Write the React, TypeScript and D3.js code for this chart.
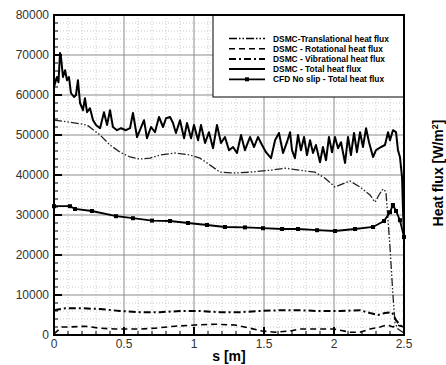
import React from 'react'
import * as d3 from 'd3'

// Total heat flux (DSMC)
const totS = [0,0.021,0.032,0.043,0.05,0.064,0.079,0.093,0.107,0.121,0.143,0.157,0.171,0.186,0.207,0.221,0.236,0.257,0.279,0.3,0.329,0.357,0.379,0.4,0.421,0.45,0.479,0.514,0.543,0.564,0.593,0.614,0.643,0.664,0.693,0.721,0.75,0.779,0.8,0.829,0.85,0.871,0.9,0.929,0.95,0.979,1.0,1.029,1.05,1.079,1.107,1.136,1.164,1.193,1.221,1.25,1.279,1.307,1.336,1.364,1.4,1.429,1.457,1.486,1.514,1.55,1.579,1.607,1.636,1.664,1.686,1.7,1.721,1.743,1.764,1.786,1.807,1.829,1.85,1.871,1.9,1.921,1.943,1.964,1.986,2.007,2.029,2.05,2.079,2.1,2.121,2.143,2.164,2.186,2.207,2.229,2.25,2.279,2.3,2.336,2.364,2.386,2.4,2.421,2.443,2.457,2.471,2.486,2.493,2.5]
const totV = [62000,64500,63200,70500,69500,64500,66200,63700,64500,60500,59500,60000,63700,58000,56200,59200,55700,56700,53700,52500,51700,55700,52500,56200,52000,51200,51700,51200,51700,55500,49500,51200,53700,49200,52000,50700,54500,52000,54200,54500,53000,50500,53700,49200,53000,49200,52500,48700,52500,48000,50700,46700,52500,48000,49500,46200,47000,45500,50000,46200,49500,47000,49500,47500,45700,44200,48700,50500,45500,48200,50700,46200,44200,50000,46200,49500,45000,48700,45500,47500,43200,47000,43700,49500,45700,49500,46700,48200,43000,49500,45000,50500,45700,50700,47000,51700,48200,44500,46200,47000,47500,50700,48700,51200,50700,46200,44500,39500,31200,25000]

// Translational
const trS = [0,0.114,0.236,0.329,0.4,0.471,0.543,0.614,0.686,0.757,0.864,0.971,1.043,1.114,1.186,1.293,1.4,1.543,1.65,1.757,1.864,1.936,2.007,2.079,2.114,2.186,2.257,2.293,2.321,2.35,2.371,2.379,2.4,2.421,2.436,2.457,2.5]
const trV = [53700,53200,52500,50000,47500,45700,44500,44000,44200,45000,45500,45000,44200,42500,40700,40500,40700,41200,41700,41200,40700,39200,37000,38000,38500,37000,35000,33200,35000,36500,35800,32000,22000,10000,3000,1500,500]

// Rotational
const rotS = [0,0.057,0.114,0.221,0.329,0.436,0.614,0.721,0.864,1.007,1.15,1.293,1.4,1.486,1.579,1.686,1.757,1.9,2.0,2.114,2.186,2.257,2.329,2.379,2.421,2.45,2.5]
const rotV = [300,2000,2000,2200,1700,1500,1500,1700,2200,2500,2700,2500,1700,1000,700,1000,1500,1500,1500,700,700,1500,2000,2500,2000,2500,2000]

// Vibrational
const vibS = [0,0.079,0.186,0.329,0.471,0.614,0.757,0.9,1.043,1.186,1.329,1.471,1.614,1.743,1.886,2.043,2.186,2.257,2.314,2.364,2.414,2.443,2.471,2.5]
const vibV = [6200,6700,6700,6500,6000,5700,5700,6000,6000,5700,5700,6000,6200,6200,6000,6000,6200,5500,5000,5500,5700,3700,2500,1700]

// CFD no slip total
const cfdS = [0,0.114,0.15,0.271,0.443,0.564,0.7,0.829,0.957,1.093,1.221,1.364,1.493,1.629,1.743,1.879,2.007,2.15,2.279,2.357,2.4,2.421,2.443,2.471,2.5]
const cfdV = [32200,32200,31500,31000,29700,29200,28600,28500,28000,27500,27000,26900,26700,26500,26500,26200,26000,26500,27000,28500,30700,32500,31000,28700,24500]

const yTicks = [0,10000,20000,30000,40000,50000,60000,70000,80000]
const xTicks = [0,0.5,1,1.5,2,2.5]
const xTickLabels = ['0','0.5','1','1.5','2','2.5']

const legendLabels = ['DSMC-Translational heat flux','DSMC - Rotational heat flux','DSMC - Vibrational heat flux','DSMC - Total heat flux','CFD No slip - Total heat flux']

const W = 446, H = 365
const L = 54, R = 404, T = 15, B = 335
const font = 'Liberation Sans, Arial, sans-serif'

export default function App() {
  const x = d3.scaleLinear().domain([0, 2.5]).range([L, R])
  const y = d3.scaleLinear().domain([0, 80000]).range([B, T])
  const mk = (s: number[], v: number[]) => d3.line<number>().x((_, i) => x(s[i])).y((_, i) => y(v[i]))(v) || ''

  const minorX = d3.range(0, 2.5001, 0.1).filter(v => Math.abs(v / 0.5 - Math.round(v / 0.5)) > 1e-6)
  const minorY = d3.range(0, 80001, 2000).filter(v => v % 10000 !== 0)

  const styles = [
    { dash: '8,2,1.5,2,1.5,2', w: 1.3 },
    { dash: '6,4', w: 1.6 },
    { dash: '7,3,2,3', w: 2 },
    { dash: '', w: 2 },
    { dash: '', w: 1.8 },
  ]

  const lx0 = 229, lx1 = 265, ly0 = 38.5, lstep = 10.2

  return (
    <div style={{ position: 'absolute', left: 0, top: 0 }}>
      <svg width={W} height={H} style={{ display: 'block', background: '#fff' }}>
        {/* minor grid */}
        {minorX.map(v => <line key={'mx' + v} x1={x(v)} x2={x(v)} y1={T} y2={B} stroke="#bdbdbd" strokeWidth={0.8} strokeDasharray="1,2" />)}
        {minorY.map(v => <line key={'my' + v} x1={L} x2={R} y1={y(v)} y2={y(v)} stroke="#bdbdbd" strokeWidth={0.8} strokeDasharray="1,2" />)}
        {/* major grid */}
        {xTicks.map(v => <line key={'gx' + v} x1={x(v)} x2={x(v)} y1={T} y2={B} stroke="#8c8c8c" strokeWidth={1} />)}
        {yTicks.map(v => <line key={'gy' + v} x1={L} x2={R} y1={y(v)} y2={y(v)} stroke="#8c8c8c" strokeWidth={1} />)}

        {/* series */}
        <path d={mk(trS, trV)} fill="none" stroke="#222" strokeWidth={styles[0].w} strokeDasharray={styles[0].dash} />
        <path d={mk(rotS, rotV)} fill="none" stroke="#000" strokeWidth={styles[1].w} strokeDasharray={styles[1].dash} />
        <path d={mk(vibS, vibV)} fill="none" stroke="#000" strokeWidth={styles[2].w} strokeDasharray={styles[2].dash} />
        <path d={mk(totS, totV)} fill="none" stroke="#000" strokeWidth={styles[3].w} strokeLinejoin="round" />
        <path d={mk(cfdS, cfdV)} fill="none" stroke="#000" strokeWidth={styles[4].w} />
        {cfdS.map((s, i) => <rect key={'c' + i} x={x(s) - 2} y={y(cfdV[i]) - 2} width={4} height={4} fill="#000" />)}

        {/* ticks */}
        {yTicks.map(v => <line key={'ty' + v} x1={L} x2={L + 8} y1={y(v)} y2={y(v)} stroke="#000" strokeWidth={2} />)}
        {minorY.map(v => <line key={'tmy' + v} x1={L} x2={L + 4} y1={y(v)} y2={y(v)} stroke="#000" strokeWidth={1} />)}
        {xTicks.map(v => <line key={'tx' + v} x1={x(v)} x2={x(v)} y1={B} y2={B - 8} stroke="#000" strokeWidth={2} />)}
        {minorX.map(v => <line key={'tmx' + v} x1={x(v)} x2={x(v)} y1={B} y2={B - 4} stroke="#000" strokeWidth={1} />)}

        {/* legend */}
        <rect x={213} y={T} width={R - 213} height={97 - T} fill="#fff" stroke="#000" strokeWidth={1} />
        {legendLabels.map((lab, i) => {
          const yy = ly0 + i * lstep
          return (
            <g key={lab}>
              <line x1={lx0} x2={lx1} y1={yy} y2={yy} stroke="#000" strokeWidth={styles[i].w} strokeDasharray={styles[i].dash} />
              {i === 4 && <rect x={(lx0 + lx1) / 2 - 2} y={yy - 2} width={4} height={4} fill="#000" />}
              <text x={273} y={yy + 3} fontFamily={font} fontSize={8.4} fontWeight="bold" fill="#000">{lab}</text>
            </g>
          )
        })}

        {/* frame */}
        <rect x={L} y={T} width={R - L} height={B - T} fill="none" stroke="#000" strokeWidth={2} />

        {/* tick labels */}
        {yTicks.map(v => <text key={'ly' + v} x={49} y={y(v) + 4} textAnchor="end" fontFamily={font} fontSize={12} fill="#333">{v}</text>)}
        {xTicks.map((v, i) => <text key={'lx' + v} x={x(v)} y={348} textAnchor="middle" fontFamily={font} fontSize={12} fill="#333">{xTickLabels[i]}</text>)}

        {/* axis titles */}
        <text x={229} y={361} textAnchor="middle" fontFamily={font} fontSize={14} fontWeight="bold" fill="#000">s [m]</text>
        <text transform="translate(443,173) rotate(-90)" textAnchor="middle" fontFamily={font} fontSize={14} fontWeight="bold" fill="#000">
          Heat flux [W/m<tspan dy={-5} fontSize={9}>2</tspan><tspan dy={5}>]</tspan>
        </text>
      </svg>
    </div>
  )
}
